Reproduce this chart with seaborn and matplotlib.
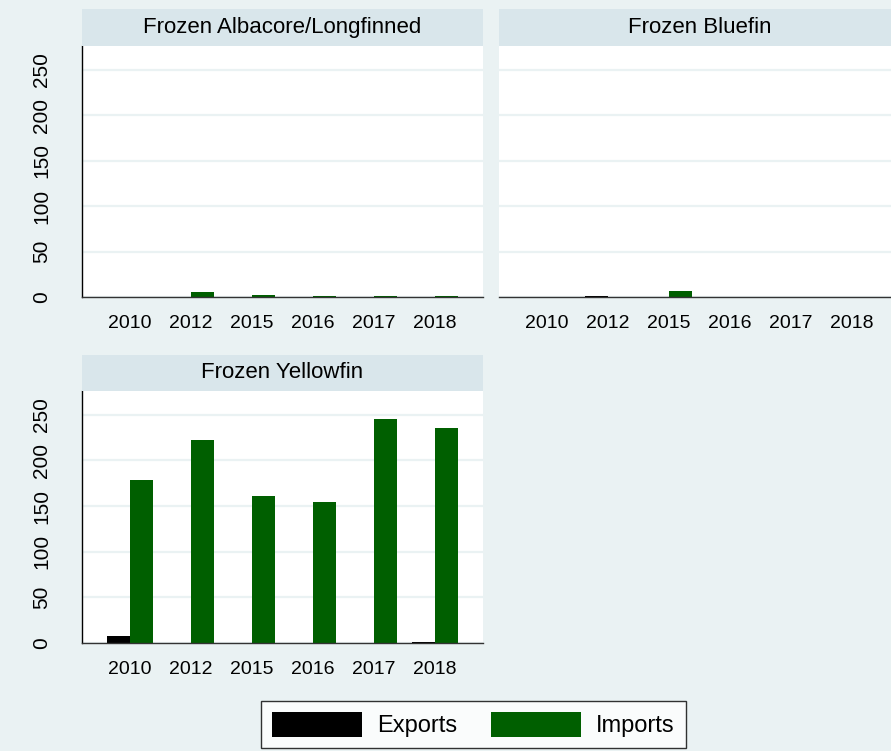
#!/usr/bin/env python3
"""Frozen tuna exports/imports by year, three product panels in Stata-like style."""

import matplotlib

matplotlib.use("Agg")

import matplotlib.pyplot as plt
from matplotlib.patches import Patch
import pandas as pd
import seaborn as sns


YEARS = ["2010", "2012", "2015", "2016", "2017", "2018"]
FLOWS = ["Exports", "Imports"]
PRODUCTS = ["Frozen Albacore/Longfinned", "Frozen Bluefin", "Frozen Yellowfin"]

ALBACORE_EXPORTS = [0, 0, 0, 0, 0, 0]
ALBACORE_IMPORTS = [0, 5.5, 2.5, 1, 1, 1]
BLUEFIN_EXPORTS = [0, 1, 0, 0, 0, 0]
BLUEFIN_IMPORTS = [0, 0, 6.5, 0, 0, 0]
YELLOWFIN_EXPORTS = [8, 0, 0, 0, 0, 1]
YELLOWFIN_IMPORTS = [178, 222, 161, 154, 245, 235]

Y_TICKS = [0, 50, 100, 150, 200, 250]

BG = "#eaf2f3"
STRIP = "#d9e6eb"
PALETTE = {"Exports": "black", "Imports": "#005f00"}

W, H = 891, 751


def build_frame() -> pd.DataFrame:
    series = {
        PRODUCTS[0]: (ALBACORE_EXPORTS, ALBACORE_IMPORTS),
        PRODUCTS[1]: (BLUEFIN_EXPORTS, BLUEFIN_IMPORTS),
        PRODUCTS[2]: (YELLOWFIN_EXPORTS, YELLOWFIN_IMPORTS),
    }
    rows = []
    for product, (exports, imports) in series.items():
        for flow, vals in zip(FLOWS, (exports, imports)):
            for year, v in zip(YEARS, vals):
                rows.append({"product": product, "year": year, "flow": flow, "value": v})
    return pd.DataFrame(rows)


def px_axes(fig, x0, y0, x1, y1, **kw):
    # pixel box (top-left origin) -> figure fraction axes
    return fig.add_axes([x0 / W, 1 - y1 / H, (x1 - x0) / W, (y1 - y0) / H], **kw)


def draw_panel(fig, df, product, box, strip_box, show_y):
    x0, y0, x1, y1 = box
    ax = px_axes(fig, x0, y0, x1, y1)
    sub = df[df["product"] == product]
    sns.barplot(
        data=sub,
        x="year",
        y="value",
        hue="flow",
        order=YEARS,
        hue_order=FLOWS,
        palette=PALETTE,
        width=0.75,
        saturation=1,
        linewidth=0,
        errorbar=None,
        legend=False,
        ax=ax,
    )
    ax.set_facecolor("white")
    ax.set_xlim(-0.79, len(YEARS) - 1 + 0.79)
    ax.set_ylim(0, 276)
    ax.set_yticks(Y_TICKS)
    ax.grid(axis="y", color=BG, linewidth=1.6)
    ax.grid(axis="x", visible=False)
    ax.set_axisbelow(True)
    ax.set_xlabel("")
    ax.set_ylabel("")
    ax.tick_params(axis="x", length=0, pad=13, labelsize=14, labelcolor="black")
    for side in ("top", "right"):
        ax.spines[side].set_visible(False)
    ax.spines["bottom"].set_color("#333333")
    ax.spines["bottom"].set_linewidth(1.0)
    if show_y:
        ax.spines["left"].set_color("black")
        ax.spines["left"].set_linewidth(1.0)
        ax.tick_params(axis="y", length=6, width=1, color="black", pad=16,
                       labelsize=15, labelcolor="black")
        for lab in ax.get_yticklabels():
            lab.set_rotation(90)
            lab.set_va("center")
    else:
        ax.spines["left"].set_visible(False)
        ax.tick_params(axis="y", left=False, labelleft=False)

    sx0, sy0, sx1, sy1 = strip_box
    sax = px_axes(fig, sx0, sy0, sx1, sy1)
    sax.set_facecolor(STRIP)
    sax.set_xticks([])
    sax.set_yticks([])
    for sp in sax.spines.values():
        sp.set_visible(False)
    sax.text(0.5, 0.5, product, ha="center", va="center", fontsize=16,
             color="black", transform=sax.transAxes)
    return ax


def main() -> None:
    sns.set_theme(style="white")
    plt.rcParams["font.family"] = ["Liberation Sans", "DejaVu Sans"]
    plt.rcParams["text.color"] = "black"
    df = build_frame()

    fig = plt.figure(figsize=(W / 100, H / 100), dpi=100)
    fig.patch.set_facecolor(BG)

    draw_panel(fig, df, PRODUCTS[0], (82, 46, 483, 297), (82, 9, 483, 46), True)
    draw_panel(fig, df, PRODUCTS[1], (499, 46, 900, 297), (499, 9, 900, 46), False)
    draw_panel(fig, df, PRODUCTS[2], (82, 391, 483, 643), (82, 355, 483, 391), True)

    handles = [Patch(facecolor=PALETTE[f], edgecolor="none", label=f) for f in FLOWS]
    leg = fig.legend(
        handles=handles,
        loc="upper center",
        bbox_to_anchor=(473.5 / W, 1 - 701 / H),
        ncol=2,
        frameon=True,
        fancybox=False,
        edgecolor="black",
        facecolor="white",
        fontsize=17,
        handlelength=3.8,
        handleheight=1.27,
        handletextpad=0.64,
        columnspacing=1.46,
        borderpad=0.45,
        borderaxespad=0,
    )
    leg.get_frame().set_linewidth(1.0)
    for txt in leg.get_texts():
        txt.set_color("black")

    fig.savefig("out.png", dpi=100, facecolor=BG)
    plt.close(fig)


if __name__ == "__main__":
    main()
